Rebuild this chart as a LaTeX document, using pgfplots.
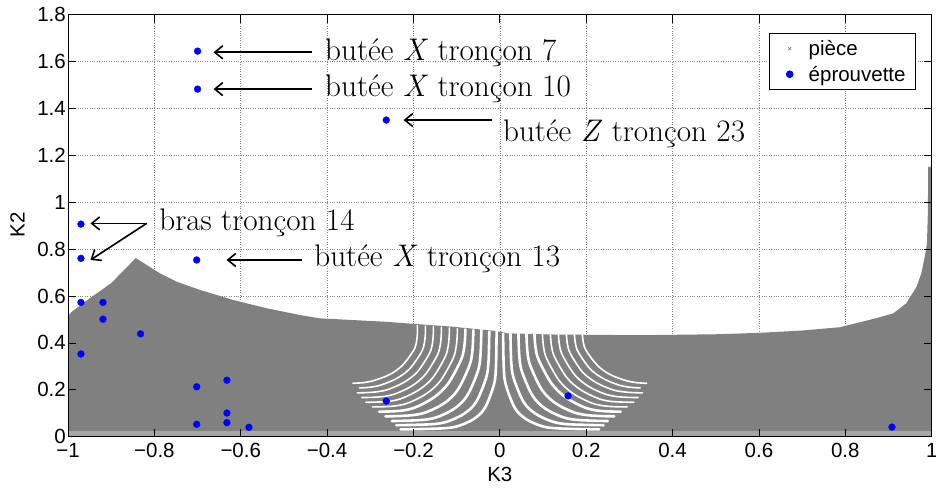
\documentclass[border=0pt]{standalone}
\usepackage{fontspec}
\usepackage{pgfplots}
\pgfplotsset{compat=1.18}
\usetikzlibrary{arrows.meta}
\newfontfamily\helv{Liberation Sans}
\definecolor{piece}{RGB}{128,128,128}
\definecolor{matblue}{RGB}{0,0,255}
\newcommand\annot{\fontsize{31.2}{37}\selectfont}
\newcommand\sfont{\helv\fontsize{20.5}{25}\selectfont}
\pgfplotsset{
  layers/mylayers/.define layer set={
    axis background,axis grid,main,axis ticks,axis lines,axis tick labels,axis descriptions,axis foreground
  }{/pgfplots/layers/standard},
  gapA/.style={white, line width=2.6pt, smooth, tension=0.55, forget plot, line cap=round},
  gapB/.style={white, line width=1.6pt, smooth, tension=0.55, forget plot, line cap=round},
  myleg/.style={legend image code/.code={\path[draw=none] (0pt,0pt) -- (24pt,0pt); \draw[##1] plot coordinates {(12pt,0pt)};}},
}
\tikzset{arr/.style={-{Straight Barb[length=8pt,width=13pt]}, line width=1.6pt, black}}
\begin{document}
\begin{tikzpicture}
\begin{axis}[
  set layers=mylayers,
  scale only axis, width=863.7pt, height=421.9pt,
  xmin=-1, xmax=1, ymin=0, ymax=1.8,
  xtick={-1,-0.8,-0.6,-0.4,-0.2,0,0.2,0.4,0.6,0.8,1},
  xticklabels={−1,−0.8,−0.6,−0.4,−0.2,0,0.2,0.4,0.6,0.8,1},
  ytick={0,0.2,0.4,0.6,0.8,1,1.2,1.4,1.6,1.8},
  yticklabels={0,0.2,0.4,0.6,0.8,1,1.2,1.4,1.6,1.8},
  tick align=inside, major tick length=8pt,
  tick style={line width=0.8pt, black},
  grid=major, grid style={dotted, gray, line width=0.7pt},
  axis line style={line width=1pt},
  ticklabel style={font=\sfont, inner sep=2pt},
  xticklabel style={yshift=-4pt},
  xlabel={K3}, ylabel={K2},
  label style={font=\sfont},
  xlabel style={at={(axis description cs:0.5,-0.09)}, anchor=center},
  ylabel style={at={(axis description cs:-0.0585,0.502)}, anchor=center},
  legend style={at={(axis description cs:0.9818,0.9569)}, anchor=north east,
    font=\sfont, draw=black, line width=0.8pt, inner xsep=8pt, inner ysep=5pt,
    nodes={inner sep=2pt}, row sep=5pt,
    /tikz/every odd column/.append style={column sep=5pt}},
  legend cell align=left,
]
% piece region (envelope)
\addplot[fill=piece, draw=none, forget plot] coordinates {
 (-1,0.004) (-1,0.515) (-0.99,0.535) (-0.95,0.59) (-0.9,0.655) (-0.843,0.762)
 (-0.818,0.733) (-0.787,0.697) (-0.748,0.661) (-0.694,0.626) (-0.617,0.583)
 (-0.54,0.548) (-0.463,0.519) (-0.417,0.505) (-0.262,0.49) (-0.108,0.469)
 (-0.015,0.452) (-0.004,0.448) (0.004,0.448) (0.016,0.441) (0.124,0.436)
 (0.325,0.433) (0.5,0.437) (0.6,0.443) (0.7,0.453) (0.787,0.467) (0.864,0.502)
 (0.911,0.526) (0.941,0.569) (0.965,0.64) (0.976,0.697) (0.984,0.768)
 (0.989,0.825) (0.991,0.95) (0.992,1.152) (1,1.152) (1,0.004)} -- cycle;
% lighter fringe at the bottom (sparse crosses)
\addplot[fill=piece!70, draw=none, forget plot] coordinates {(-1,0.003) (-1,0.024) (1,0.024) (1,0.003)} -- cycle;
% white gaps (right)
\addplot[gapA] coordinates {(0.0075,0.44) (0.0092,0.290) (0.0142,0.219) (0.0346,0.123) (0.0599,0.076) (0.0957,0.046) (0.1292,0.036) (0.2,0.032) (0.23,0.031)};
\addplot[gapA] coordinates {(0.0245,0.44) (0.0264,0.318) (0.0321,0.249) (0.0547,0.149) (0.0818,0.099) (0.1193,0.066) (0.1521,0.054) (0.21,0.05) (0.24,0.049)};
\addplot[gapA] coordinates {(0.043,0.44) (0.0451,0.343) (0.0513,0.277) (0.0757,0.175) (0.1044,0.121) (0.1425,0.0855) (0.1738,0.0725) (0.22,0.068) (0.25,0.067)};
\addplot[gapA] coordinates {(0.0615,0.44) (0.0638,0.363) (0.0707,0.302) (0.0974,0.200) (0.1279,0.144) (0.1668,0.107) (0.1972,0.093) (0.235,0.088) (0.265,0.087)};
\addplot[gapA] coordinates {(0.08,0.44) (0.0825,0.382) (0.0902,0.3265) (0.1198,0.2265) (0.1524,0.168) (0.1919,0.128) (0.2204,0.113) (0.25,0.108) (0.28,0.107)};
\addplot[gapB] coordinates {(0.0985,0.44) (0.101,0.386) (0.1085,0.333) (0.1375,0.239) (0.1694,0.1845) (0.2081,0.147) (0.236,0.133) (0.265,0.128) (0.295,0.127)};
\addplot[gapB] coordinates {(0.117,0.44) (0.1194,0.389) (0.1268,0.340) (0.1551,0.252) (0.1864,0.201) (0.2243,0.1655) (0.2516,0.152) (0.28,0.148) (0.31,0.147)};
\addplot[gapB] coordinates {(0.1355,0.44) (0.1379,0.393) (0.1451,0.347) (0.1728,0.265) (0.2034,0.217) (0.2405,0.184) (0.2672,0.172) (0.295,0.168) (0.32,0.167)};
\addplot[gapB] coordinates {(0.154,0.44) (0.1563,0.396) (0.1634,0.354) (0.1905,0.278) (0.2205,0.2336) (0.2566,0.203) (0.2829,0.192) (0.31,0.188) (0.33,0.187)};
\addplot[gapB] coordinates {(0.1725,0.44) (0.1748,0.3996) (0.1816,0.361) (0.2082,0.291) (0.2375,0.25) (0.2728,0.222) (0.2985,0.2115) (0.325,0.208)};
\addplot[gapB] coordinates {(0.191,0.44) (0.1932,0.403) (0.1999,0.3675) (0.2259,0.304) (0.2545,0.266) (0.289,0.241) (0.3141,0.231) (0.34,0.228)};
% white gaps (left)
\addplot[gapA] coordinates {(-0.0075,0.445) (-0.0075,0.44) (-0.0092,0.290) (-0.0142,0.219) (-0.0346,0.123) (-0.0599,0.076) (-0.0957,0.046) (-0.1292,0.036) (-0.2,0.032) (-0.23,0.031)};
\addplot[gapA] coordinates {(-0.0245,0.448) (-0.0245,0.44) (-0.0264,0.318) (-0.0321,0.249) (-0.0547,0.149) (-0.0818,0.099) (-0.1193,0.066) (-0.1521,0.054) (-0.21,0.05) (-0.24,0.049)};
\addplot[gapA] coordinates {(-0.043,0.451) (-0.043,0.44) (-0.0451,0.343) (-0.0513,0.277) (-0.0757,0.175) (-0.1044,0.121) (-0.1425,0.0855) (-0.1738,0.0725) (-0.22,0.068) (-0.25,0.067)};
\addplot[gapA] coordinates {(-0.0615,0.455) (-0.0615,0.44) (-0.0638,0.363) (-0.0707,0.302) (-0.0974,0.200) (-0.1279,0.144) (-0.1668,0.107) (-0.1972,0.093) (-0.235,0.088) (-0.265,0.087)};
\addplot[gapA] coordinates {(-0.08,0.458) (-0.08,0.44) (-0.0825,0.382) (-0.0902,0.3265) (-0.1198,0.2265) (-0.1524,0.168) (-0.1919,0.128) (-0.2204,0.113) (-0.25,0.108) (-0.28,0.107)};
\addplot[gapB] coordinates {(-0.0985,0.461) (-0.0985,0.44) (-0.101,0.386) (-0.1085,0.333) (-0.1375,0.239) (-0.1694,0.1845) (-0.2081,0.147) (-0.236,0.133) (-0.265,0.128) (-0.295,0.127)};
\addplot[gapB] coordinates {(-0.117,0.464) (-0.117,0.44) (-0.1194,0.389) (-0.1268,0.340) (-0.1551,0.252) (-0.1864,0.201) (-0.2243,0.1655) (-0.2516,0.152) (-0.28,0.148) (-0.31,0.147)};
\addplot[gapB] coordinates {(-0.1355,0.467) (-0.1355,0.44) (-0.1379,0.393) (-0.1451,0.347) (-0.1728,0.265) (-0.2034,0.217) (-0.2405,0.184) (-0.2672,0.172) (-0.295,0.168) (-0.32,0.167)};
\addplot[gapB] coordinates {(-0.154,0.469) (-0.154,0.44) (-0.1563,0.396) (-0.1634,0.354) (-0.1905,0.278) (-0.2205,0.2336) (-0.2566,0.203) (-0.2829,0.192) (-0.31,0.188) (-0.33,0.187)};
\addplot[gapB] coordinates {(-0.1725,0.472) (-0.1725,0.44) (-0.1748,0.3996) (-0.1816,0.361) (-0.2082,0.291) (-0.2375,0.25) (-0.2728,0.222) (-0.2985,0.2115) (-0.325,0.208)};
\addplot[gapB] coordinates {(-0.191,0.475) (-0.191,0.44) (-0.1932,0.403) (-0.1999,0.3675) (-0.2259,0.304) (-0.2545,0.266) (-0.289,0.241) (-0.3141,0.231) (-0.34,0.228)};

\addlegendimage{only marks, mark=x, mark size=2.2pt, piece, line width=0.6pt, myleg}
\addlegendentry{pièce}
\addplot[only marks, mark=*, mark size=3.4pt, matblue, draw=none, mark options={draw=none, fill=matblue}, myleg] coordinates {
 (-0.70,1.645) (-0.70,1.483) (-0.263,1.351) (-0.970,0.907) (-0.970,0.761)
 (-0.702,0.754) (-0.970,0.573) (-0.919,0.573) (-0.919,0.501) (-0.832,0.439)
 (-0.970,0.353) (-0.702,0.213) (-0.632,0.241) (-0.632,0.101) (-0.632,0.060)
 (-0.702,0.053) (-0.581,0.040) (-0.263,0.152) (0.158,0.174) (0.908,0.041)};
\addlegendentry{éprouvette}

% annotations
\node[anchor=base west, inner sep=0pt, font=\annot] at (axis cs:-0.405,1.603) {butée \textit{X} tronçon 7};
\node[anchor=base west, inner sep=0pt, font=\annot] at (axis cs:-0.405,1.4505) {butée \textit{X} tronçon 10};
\node[anchor=base west, inner sep=0pt, font=\annot] at (axis cs:0.007,1.259) {butée \textit{Z} tronçon 23};
\node[anchor=base west, inner sep=0pt, font=\annot] at (axis cs:-0.789,0.879) {bras tronçon 14};
\node[anchor=base west, inner sep=0pt, font=\annot] at (axis cs:-0.43,0.725) {butée \textit{X} tronçon 13};
\draw[arr] (axis cs:-0.434,1.640) -- (axis cs:-0.663,1.640);
\draw[arr] (axis cs:-0.434,1.483) -- (axis cs:-0.663,1.483);
\draw[arr] (axis cs:-0.019,1.351) -- (axis cs:-0.223,1.351);
\draw[arr] (axis cs:-0.818,0.910) -- (axis cs:-0.948,0.910);
\draw[arr] (axis cs:-0.818,0.910) -- (axis cs:-0.948,0.754);
\draw[arr] (axis cs:-0.459,0.754) -- (axis cs:-0.633,0.754);
\end{axis}
\pgfresetboundingbox
\path (current axis.south west) ++(-68pt,-50.3pt) rectangle ++(936pt,487pt);
\end{tikzpicture}
\end{document}
